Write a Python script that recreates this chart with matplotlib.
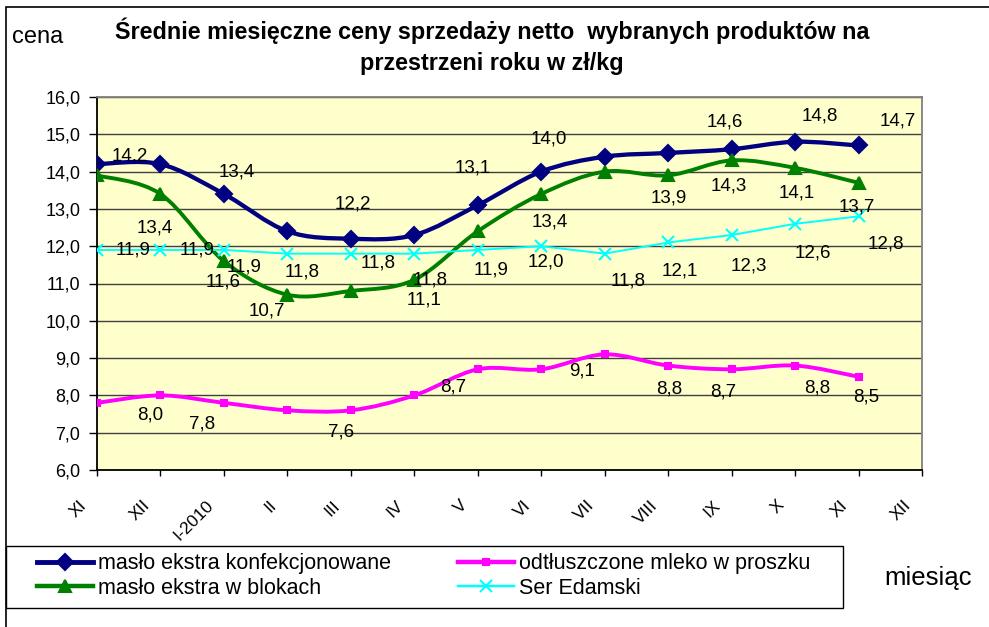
import numpy as np
import matplotlib
matplotlib.use('Agg')
import matplotlib.pyplot as plt
import matplotlib.transforms as mtransforms
from matplotlib.path import Path
from matplotlib.patches import PathPatch, Rectangle
from matplotlib.lines import Line2D
from matplotlib.ticker import FuncFormatter

plt.rcParams['font.family'] = ['Liberation Sans', 'DejaVu Sans']

# Data (zł/kg)
months = ['XI', 'XII', 'I-2010', 'II', 'III', 'IV', 'V', 'VI', 'VII', 'VIII', 'IX', 'X', 'XI', 'XII']
maslo_konf = [14.2, 14.2, 13.4, 12.4, 12.2, 12.3, 13.1, 14.0, 14.4, 14.5, 14.6, 14.8, 14.7]
maslo_blok = [13.9, 13.4, 11.6, 10.7, 10.8, 11.1, 12.4, 13.4, 14.0, 13.9, 14.3, 14.1, 13.7]
mleko = [7.8, 8.0, 7.8, 7.6, 7.6, 8.0, 8.7, 8.7, 9.1, 8.8, 8.7, 8.8, 8.5]
ser = [11.9, 11.9, 11.9, 11.8, 11.8, 11.8, 11.9, 12.0, 11.8, 12.1, 12.3, 12.6, 12.8]

# which points carry a value label, and label offset from the point (pixels)
konf_lbl = [(0, 33, 8), (2, 13, 22), (4, 2, 35), (6, -5, 37), (7, 8, 33),
            (10, -7, 27), (11, 25, 26), (12, 39, 24)]
blok_lbl = [(1, -6, -34), (2, -1, -21), (3, -21, -16), (5, 10, -20), (7, 9, -28),
            (9, 1, -23), (10, -3, -26), (11, 2, -25), (12, -2, -24)]
mleko_lbl = [(1, -10, -20), (2, -22, -21), (4, -10, -22), (6, -25, -18), (8, -23, -17),
             (9, 1, -23), (10, -8, -23), (11, 22, -22), (12, 8, -20)]
ser_lbl = [(0, 36, 0), (1, 37, 0), (2, 20, -17), (3, 15, -18), (4, 27, -9), (5, 16, -26),
           (6, 13, -20), (7, 5, -16), (8, 23, -27), (9, 12, -29), (10, 17, -31),
           (11, 18, -29), (12, 27, -28)]

W, H = 989, 627


def fx(px):
    return px / W


def fy(py):
    return 1 - py / H


def pl(v):
    return f'{v:.1f}'.replace('.', ',')


def smooth_path(xs, ys):
    # Excel-like smoothed line: bezier segments through the points
    pts = np.column_stack([xs, ys]).astype(float)
    n = len(pts)
    verts = [pts[0]]
    codes = [Path.MOVETO]
    for i in range(n - 1):
        p0 = pts[max(i - 1, 0)]
        p1 = pts[i]
        p2 = pts[i + 1]
        p3 = pts[min(i + 2, n - 1)]
        verts += [p1 + (p2 - p0) / 6, p2 - (p3 - p1) / 6, p2]
        codes += [Path.CURVE4] * 3
    return Path(verts, codes)


fig = plt.figure(figsize=(W / 100, H / 100), dpi=100)
ax = fig.add_axes([fx(97), fy(470), fx(922) - fx(97), fy(97) - fy(470)])
ax.set_facecolor('#FFFFCC')
ax.set_xlim(0, 13)
ax.set_ylim(6, 16)

x = np.arange(len(maslo_konf))

series = [
    ('masło ekstra konfekcjonowane', maslo_konf, '#000080', 'D', 8, 3.1, True, konf_lbl),
    ('odtłuszczone mleko w proszku', mleko, '#FF00FF', 's', 5, 2.8, True, mleko_lbl),
    ('masło ekstra w blokach', maslo_blok, '#008000', '^', 9, 2.8, True, blok_lbl),
    ('Ser Edamski', ser, '#00FFFF', 'x', 8.5, 1.4, False, ser_lbl),
]

handles = {}
for name, vals, col, mk, ms, lw, smooth, lbls in series:
    if smooth:
        ax.add_patch(PathPatch(smooth_path(x, vals), fill=False, edgecolor=col, lw=lw,
                               capstyle='round', joinstyle='round', zorder=3))
    else:
        ax.plot(x, vals, color=col, lw=lw, zorder=3)
    ax.plot(x, vals, linestyle='none', marker=mk, ms=ms, color=col, mec=col,
            mew=1.5, zorder=4)
    for i, dx, dy in lbls:
        ax.annotate(pl(vals[i]), (x[i], vals[i]), xytext=(dx, dy), textcoords='offset pixels',
                    ha='center', va='center', fontsize=13.5, color='black', zorder=5)
    handles[name] = Line2D([], [], color=col, lw=lw + 0.4, marker=mk, ms=ms, mec=col, mew=1.5)

# axes styling
ax.set_yticks(np.arange(6, 16.5, 1))
ax.yaxis.set_major_formatter(FuncFormatter(lambda v, p: pl(v)))
ax.grid(axis='y', color='#404040', lw=1)
ax.set_axisbelow(True)
ax.spines['left'].set_color('black')
ax.spines['bottom'].set_color('black')
ax.spines['top'].set_color('#808080')
ax.spines['right'].set_color('#808080')
for s in ax.spines.values():
    s.set_linewidth(1.3)
ax.tick_params(axis='y', direction='out', length=6, width=1, pad=6, labelsize=13)
ax.tick_params(axis='x', direction='out', length=4, width=1, pad=16, labelsize=12.5)
ax.set_xticks(range(len(months)))
ax.set_xticklabels(months, rotation=45, ha='right')
shift = mtransforms.ScaledTranslation(-8 / 100, 0, fig.dpi_scale_trans)
for t in ax.get_xticklabels():
    t.set_transform(t.get_transform() + shift)

# titles and axis names
fig.text(fx(492), fy(39), 'Średnie miesięczne ceny sprzedaży netto  wybranych produktów na',
         ha='center', va='baseline', fontsize=16.8, fontweight='bold')
fig.text(fx(492), fy(70), 'przestrzeni roku w zł/kg',
         ha='center', va='baseline', fontsize=16.8, fontweight='bold')
fig.text(fx(12), fy(43), 'cena', ha='left', va='baseline', fontsize=17)
fig.text(fx(884), fy(585), 'miesiąc', ha='left', va='baseline', fontsize=18.5)

# outer frame and legend frame
fig.patches.append(Rectangle((fx(6), -0.1), 1.2, fy(7) + 0.1, transform=fig.transFigure,
                             fill=False, ec='black', lw=1.2))
fig.patches.append(Rectangle((fx(6), fy(608)), fx(843) - fx(6), (608 - 546) / H,
                             transform=fig.transFigure, fill=False, ec='black', lw=1))

col1 = ['masło ekstra konfekcjonowane', 'masło ekstra w blokach']
col2 = ['odtłuszczone mleko w proszku', 'Ser Edamski']
for names, x0 in [(col1, 37), (col2, 458)]:
    leg = fig.legend([handles[n] for n in names], names, loc='center left',
                     bbox_to_anchor=(fx(x0), fy(576)), frameon=False, borderpad=0,
                     borderaxespad=0, fontsize=15.5, handlelength=2.6, handletextpad=0.25,
                     labelspacing=0.15, numpoints=1)

fig.savefig('out.png', dpi=100)
